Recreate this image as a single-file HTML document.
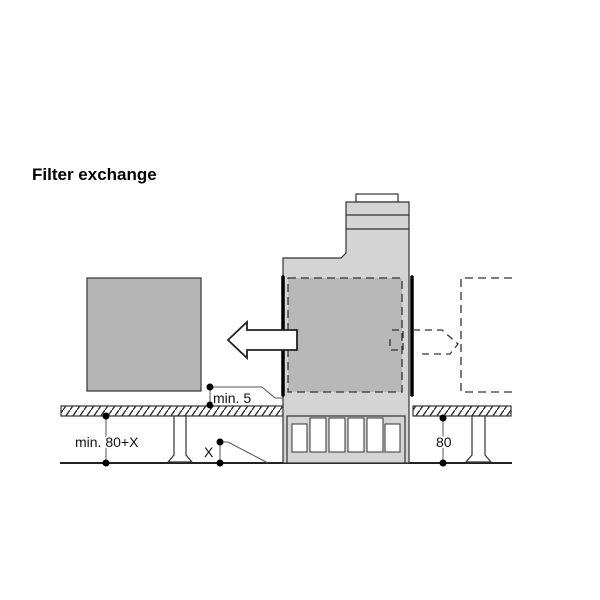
<html><body style="margin:0;background:#fff">
<svg width="600" height="600" viewBox="0 0 600 600" xmlns="http://www.w3.org/2000/svg" font-family="Liberation Sans, sans-serif">
<defs><pattern id="h" width="7" height="10" patternUnits="userSpaceOnUse"><rect width="7" height="10" fill="#fff"/><line x1="0" y1="10" x2="7" y2="0" stroke="#222" stroke-width="1.3"/></pattern></defs>
<text x="32" y="180" font-size="17" font-weight="bold">Filter exchange</text>
<rect x="87" y="278" width="114" height="113" fill="#b4b4b4" stroke="#333" stroke-width="1.2"/>
<rect x="61" y="406" width="222" height="10" fill="url(#h)" stroke="#333" stroke-width="1.2"/>
<rect x="413" y="406" width="98" height="10" fill="url(#h)" stroke="#333" stroke-width="1.2"/>
<line x1="60" y1="463" x2="512" y2="463" stroke="#222" stroke-width="2"/>
<g fill="#fff" stroke="#333" stroke-width="1.2">
<path d="M174 416V455L168 462H192L186 455V416Z"/>
<path d="M472 416V455L466 462H491L485 455V416Z"/>
</g>
<rect x="356" y="194" width="42" height="8" fill="#fff" stroke="#333" stroke-width="1.2"/>
<path d="M346 202H409V463H283V258H341L346 253Z" fill="#d4d4d4" stroke="#333" stroke-width="1.2"/>
<line x1="346" y1="215" x2="409" y2="215" stroke="#333" stroke-width="1.2"/>
<line x1="346" y1="229" x2="409" y2="229" stroke="#333" stroke-width="1.2"/>
<rect x="288" y="278" width="114" height="114" fill="#b8b8b8" stroke="#333" stroke-width="1.3" stroke-dasharray="8,5"/>
<rect x="287" y="416" width="118" height="47" fill="#d4d4d4" stroke="#333" stroke-width="1.2"/>
<g fill="#fff" stroke="#333" stroke-width="1">
<rect x="292" y="424" width="15" height="28"/><rect x="310" y="418" width="16" height="34"/><rect x="329" y="418" width="16" height="34"/><rect x="348" y="418" width="16" height="34"/><rect x="367" y="418" width="16" height="34"/><rect x="385" y="424" width="15" height="28"/>
</g>
<g stroke="#000" stroke-width="3.5" stroke-linecap="round"><line x1="283" y1="277" x2="283" y2="395"/><line x1="412" y1="277" x2="412" y2="395"/></g>
<path d="M228 340L247 322V330H297V350H247V358Z" fill="#fff" stroke="#222" stroke-width="1.8"/>
<path d="M512 278H461V392H512" fill="none" stroke="#333" stroke-width="1.3" stroke-dasharray="8,5"/>
<g fill="none" stroke="#333" stroke-width="1.3" stroke-dasharray="7,5"><path d="M413 330H442L458 344L450 354H420"/><path d="M392 330H403V350H390V337"/></g>
<g stroke="#555" stroke-width="1" fill="none">
<line x1="210" y1="387" x2="210" y2="405"/><path d="M210 387H262L275 398H283"/>
<line x1="106" y1="416" x2="106" y2="463"/><line x1="220" y1="442" x2="220" y2="463"/><path d="M220 442H228L268 463"/>
<line x1="443" y1="418" x2="443" y2="463"/>
</g>
<g fill="#000"><circle cx="210" cy="387" r="3.5"/><circle cx="210" cy="405" r="3.5"/><circle cx="106" cy="416" r="3.5"/><circle cx="106" cy="463" r="3.5"/><circle cx="220" cy="442" r="3.5"/><circle cx="220" cy="463" r="3.5"/><circle cx="443" cy="418" r="3.5"/><circle cx="443" cy="463" r="3.5"/></g>
<g font-size="14" fill="#111">
<text x="213" y="403" style="paint-order:stroke" stroke="#fff" stroke-width="3">min. 5</text>
<text x="75" y="447" style="paint-order:stroke" stroke="#fff" stroke-width="4">min. 80+X</text>
<text x="204" y="457">X</text>
<text x="436" y="447" style="paint-order:stroke" stroke="#fff" stroke-width="4">80</text>
</g>
</svg>
</body></html>
